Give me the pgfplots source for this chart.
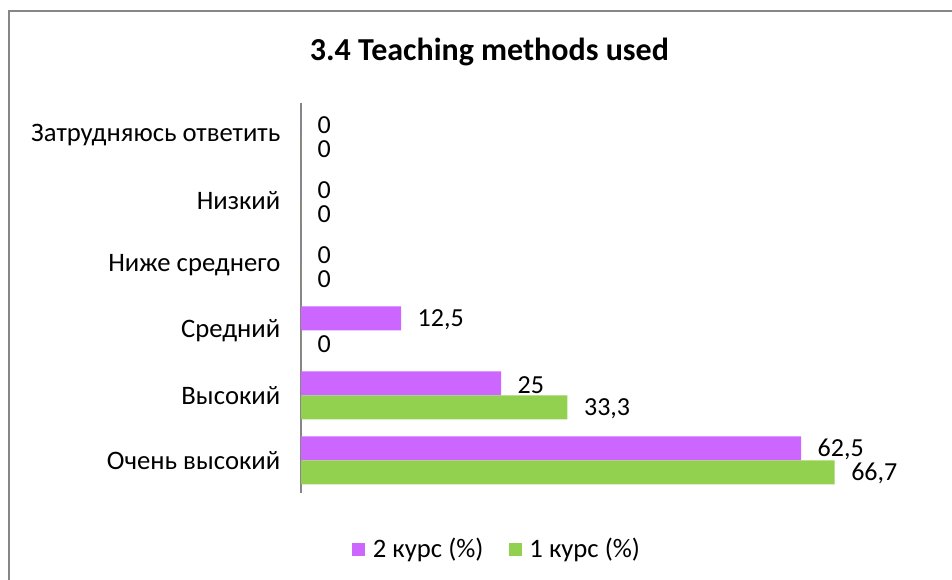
\documentclass[border=0pt]{standalone}
\usepackage{pgfplots}
\pgfplotsset{compat=1.18}
\usepackage{fontspec}
\setmainfont{Carlito}
\definecolor{purp}{HTML}{CC66FF}
\definecolor{grn}{HTML}{92D050}
\definecolor{axgray}{HTML}{868686}
\pgfplotsset{sqlegend/.style={legend image code/.code={\fill[##1] (0pt,-4.9pt) rectangle (9.8pt,4.9pt); \path (13.5pt,0pt);}}}
\begin{document}
\begin{tikzpicture}
\useasboundingbox (0pt,0pt) rectangle (714pt,435pt);
\draw[axgray, line width=1.5pt] (7.1pt,-10pt) -- (7.1pt,426.4pt) -- (730pt,426.4pt);
\node[font=\bfseries\fontsize{24}{28}\selectfont] at (367.1pt,396pt) {3.4 Teaching methods used};
\begin{axis}[
  at={(225.75pt,65.25pt)}, anchor=south west,
  scale only axis, width=480pt, height=292.5pt,
  xbar, bar width=18pt,
  xmin=0, xmax=80, ymin=-0.5, ymax=5.5,
  axis x line=none, xtick=\empty,
  axis y line*=left,
  y axis line style={-, axgray, line width=1.1pt},
  ytick={0,1,2,3,4,5},
  yticklabels={Очень высокий, Высокий, Средний, Ниже среднего, Низкий, Затрудняюсь ответить},
  major tick length=0pt,
  yticklabel style={font=\fontsize{20}{24}\selectfont, xshift=-12pt},
  /pgf/number format/.cd, use comma, assume math mode=true, /pgfplots/.cd,
  nodes near coords,
  every node near coord/.append style={font=\fontsize{19.5}{23}\selectfont, black, xshift=9pt, yshift=-1pt},
  legend style={at={(0.307,-0.144)}, anchor=center, draw=none, legend columns=2,
    font=\fontsize{20}{24}\selectfont,
    /tikz/every even column/.append style={column sep=17pt}},
]
\addplot[fill=purp, draw=none, bar shift=9pt, sqlegend]
  coordinates {(62.5,0) (25,1) (12.5,2) (0,3) (0,4) (0,5)};
\addlegendentry{2 курс (\%)}
\addplot[fill=grn, draw=none, bar shift=-9pt, sqlegend]
  coordinates {(66.7,0) (33.3,1) (0,2) (0,3) (0,4) (0,5)};
\addlegendentry{1 курс (\%)}
\end{axis}
\end{tikzpicture}
\end{document}
